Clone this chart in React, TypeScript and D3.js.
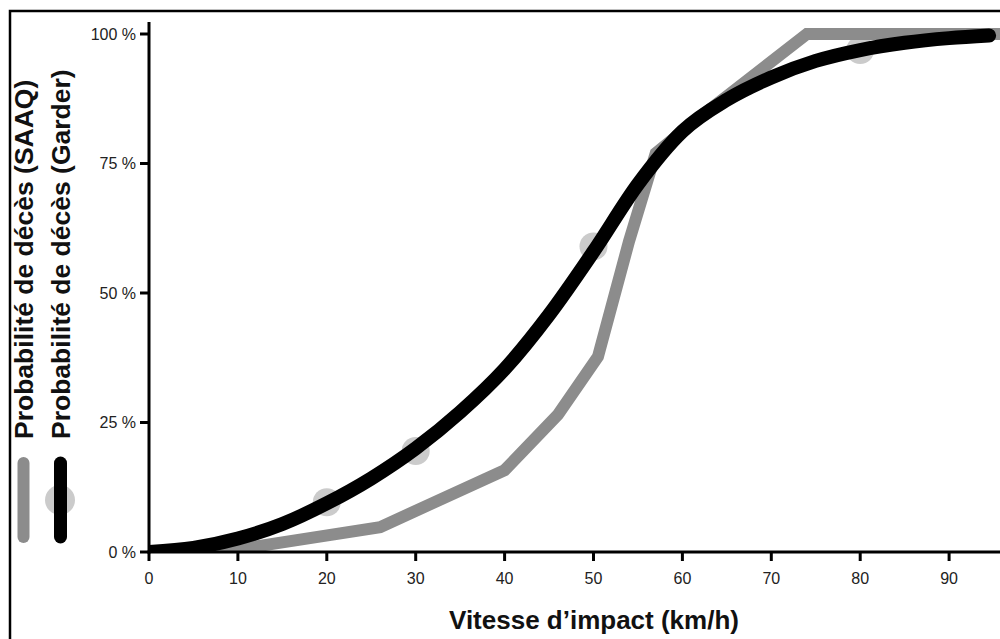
import React from "react";
import * as d3 from "d3";

const xTicks = [0, 10, 20, 30, 40, 50, 60, 70, 80, 90];
const yTicks = [0, 25, 50, 75, 100];
const yTickLabels = ["0 %", "25 %", "50 %", "75 %", "100 %"];

// SAAQ (gray polyline)
const saaqSpeed = [0, 8, 26, 40, 46, 50.5, 54, 57, 62, 74, 100];
const saaqProb = [0, 0, 4.8, 15.8, 26.5, 37.7, 60, 77, 84, 100, 100];

// Garder (black curve)
const garderSpeed = [0, 5, 10, 15, 20, 25, 30, 35, 40, 45, 50, 55, 60, 65, 70, 75, 80, 85, 90, 94.5];
const garderProb = [0, 0.8, 2.6, 5.4, 9.4, 14.2, 20, 27, 35.3, 45.8, 58, 71, 81.2, 87.3, 91.6, 94.8, 96.9, 98.3, 99.2, 99.7];

// observed dots
const dotSpeed = [20, 30, 50, 80];
const dotProb = [9.6, 19.5, 59, 96.9];

const FONT = "'Liberation Sans', Arial, sans-serif";

export default function App() {
  const x = d3.scaleLinear().domain([0, 100]).range([149, 1038]);
  const y = d3.scaleLinear().domain([0, 100]).range([552, 34]);

  const saaqPath =
    d3
      .line<[number, number]>()
      .x((d) => x(d[0]))
      .y((d) => y(d[1]))
      .curve(d3.curveLinear)(saaqSpeed.map((s, i) => [s, saaqProb[i]]) as [number, number][]) || "";
  const garderPath =
    d3
      .line<[number, number]>()
      .x((d) => x(d[0]))
      .y((d) => y(d[1]))
      .curve(d3.curveMonotoneX)(garderSpeed.map((s, i) => [s, garderProb[i]]) as [number, number][]) || "";

  const x0 = x(0);
  const y0 = y(0);

  return (
    <svg
      width={1000}
      height={639}
      style={{ position: "absolute", left: 0, top: 0, background: "#fff" }}
      fontFamily={FONT}
    >
      <defs>
        <clipPath id="plot">
          <rect x={x0} y={11} width={1000 - x0} height={y0 - 11} />
        </clipPath>
      </defs>
      <rect x={0} y={0} width={1000} height={639} fill="#fff" />
      <rect x={10} y={11} width={1000} height={640} fill="none" stroke="#000" strokeWidth={2.5} />

      {/* data */}
      <g clipPath="url(#plot)">
        {dotSpeed.map((s, i) => (
          <circle key={i} cx={x(s)} cy={y(dotProb[i])} r={14} fill="#cbcbcb" />
        ))}
        <path d={saaqPath} fill="none" stroke="#8c8c8c" strokeWidth={12} strokeLinejoin="miter" />
        <path d={garderPath} fill="none" stroke="#000" strokeWidth={14} strokeLinecap="round" />
      </g>

      {/* y axis */}
      <line x1={x0} x2={x0} y1={22} y2={y0 + 1.5} stroke="#000" strokeWidth={3} />
      {yTicks.map((t, i) => (
        <g key={t}>
          <line x1={x0 - 9} x2={x0} y1={y(t)} y2={y(t)} stroke="#000" strokeWidth={3} />
          <text x={x0 - 13} y={y(t)} dy="0.35em" textAnchor="end" fontSize={16} fill="#222">
            {yTickLabels[i]}
          </text>
        </g>
      ))}

      {/* x axis */}
      <line x1={x0 - 1.5} x2={1000} y1={y0} y2={y0} stroke="#000" strokeWidth={3} />
      {xTicks.map((t) => (
        <g key={t}>
          <line x1={x(t)} x2={x(t)} y1={y0} y2={y0 + 9} stroke="#000" strokeWidth={3} />
          <text x={x(t)} y={584} textAnchor="middle" fontSize={16} fill="#222">
            {t}
          </text>
        </g>
      ))}
      <text x={594} y={629} textAnchor="middle" fontSize={26} fontWeight="bold" fill="#111">
        Vitesse d’impact (km/h)
      </text>

      {/* legend */}
      <text transform="translate(33,439) rotate(-90)" fontSize={26.5} fontWeight="bold" fill="#111">
        Probabilité de décès (SAAQ)
      </text>
      <text transform="translate(70,439) rotate(-90)" fontSize={26.5} fontWeight="bold" fill="#111">
        Probabilité de décès (Garder)
      </text>
      <circle cx={60} cy={500} r={15} fill="#cbcbcb" />
      <line x1={23.5} x2={23.5} y1={463} y2={537} stroke="#8c8c8c" strokeWidth={12} strokeLinecap="round" />
      <line x1={60.5} x2={60.5} y1={463} y2={537} stroke="#000" strokeWidth={13} strokeLinecap="round" />
    </svg>
  );
}
